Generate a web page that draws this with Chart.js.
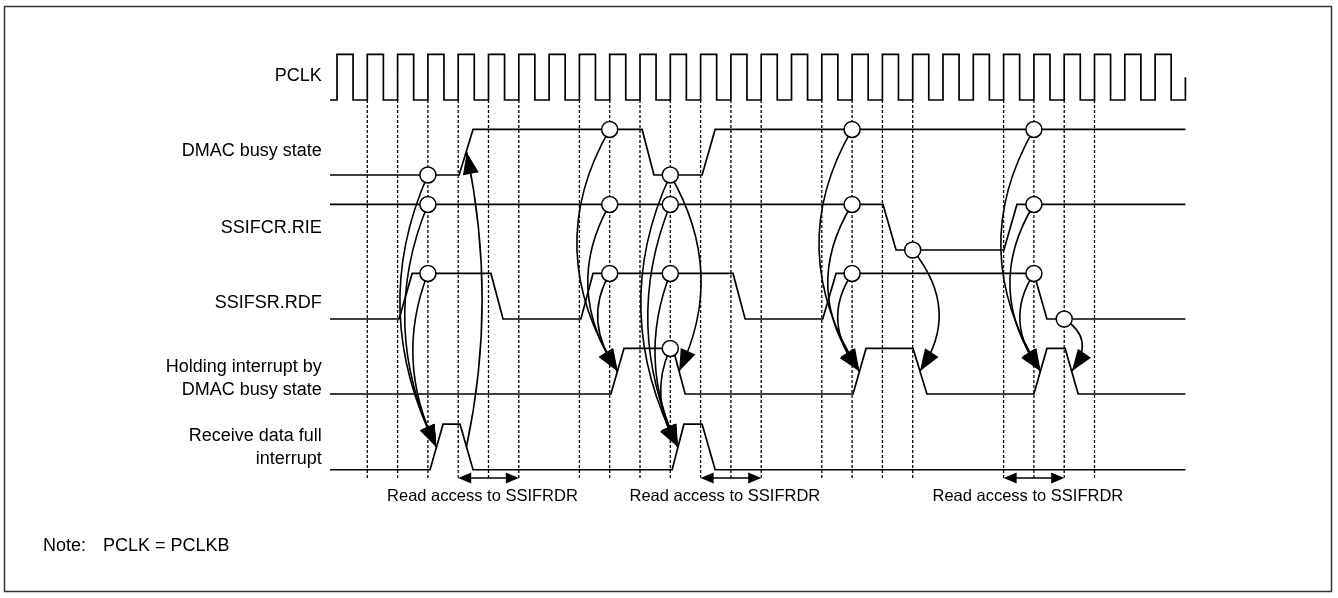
<!DOCTYPE html>
<html>
<head>
<meta charset="utf-8">
<title>SSI receive timing</title>
<script src="https://cdn.jsdelivr.net/npm/chart.js@4.4.1/dist/chart.umd.min.js"></script>
<style>
  body { margin: 0; background: #fff; }
  .box { width: 1338px; height: 598px; }
</style>
</head>
<body>
<div class="box"><canvas id="myChart"></canvas></div>
<script>
// time is in PCLK cycles (0 = first rising edge drawn), level 0 = low, 1 = high
const signalNames = ["PCLK", "DMAC busy state", "SSIFCR.RIE", "SSIFSR.RDF",
    ["Holding interrupt by", "DMAC busy state"], ["Receive data full", "interrupt"]];
const traceStart = -0.23;
const traceEnd = 28;

const pclkRise = [0, 1, 2, 3, 4, 5, 6, 7, 8, 9, 10, 11, 12, 13, 14, 15, 16, 17, 18, 19, 20, 21, 22, 23, 24, 25, 26, 27];
const pclkHighTime = 0.53;
const pclkLastLevel = 0.5;   // the picture is cut off half way up the last edge

const dmacBusy = [[-0.23, 0], [4.03, 0], [4.49, 1], [10.07, 1], [10.46, 0], [12.05, 0], [12.48, 1], [28, 1]];
const ssifcrRie = [[-0.23, 1], [18.02, 1], [18.45, 0], [22.01, 0], [22.44, 1], [28, 1]];
const ssifsrRdf = [[-0.23, 0], [2.05, 0], [2.48, 1], [5.08, 1], [5.48, 0], [8.05, 0], [8.45, 1], [13.07, 1], [13.47, 0],
    [16.03, 0], [16.47, 1], [23, 1], [23.43, 0], [28, 0]];
const holdingInt = [[-0.23, 0], [9.04, 0], [9.47, 1], [11.09, 1], [11.49, 0], [17.03, 0], [17.46, 1], [19.01, 1], [19.47, 0],
    [23, 0], [23.43, 1], [24.03, 1], [24.46, 0], [28, 0]];
const rxFullInt = [[-0.23, 0], [3.07, 0], [3.5, 1], [4.06, 1], [4.49, 0], [11.06, 0], [11.45, 1], [12.05, 1], [12.48, 0], [28, 0]];

// dotted PCLK reference edges
const dashTimes = [1, 2, 3, 4, 5, 6, 8, 9, 10, 11, 12, 13, 14, 16, 17, 18, 19, 22, 23, 24, 25];

// circled sampling points: [time, level]
const dmacMarks = [[3, 0], [9, 1], [11, 0], [17, 1], [23, 1]];
const rieMarks = [[3, 1], [9, 1], [11, 1], [17, 1], [19, 0], [23, 1]];
const rdfMarks = [[3, 1], [9, 1], [11, 1], [17, 1], [23, 1], [24, 0]];
const holdMarks = [[11, 1]];

// cause -> effect: [from signal, time, level, to signal, time, level, bend time, bend row]
const causeArrows = [
    [1, 3, 0, 5, 3.28, 0.5, 2.08, 2.81],
    [2, 3, 1, 5, 3.28, 0.5, 2.24, 3.01],
    [3, 3, 1, 5, 3.28, 0.5, 2.51, 3.47],
    [5, 4.27, 0.5, 1, 4.28, 0.5, 4.79, 2.67],
    [1, 9, 1, 4, 9.26, 0.5, 7.92, 2.0],
    [2, 9, 1, 4, 9.26, 0.5, 8.28, 2.51],
    [3, 9, 1, 4, 9.26, 0.5, 8.61, 2.96],
    [1, 11, 0, 5, 11.25, 0.5, 10.03, 2.81],
    [2, 11, 1, 5, 11.25, 0.5, 10.26, 3.01],
    [3, 11, 1, 5, 11.25, 0.5, 10.5, 3.47],
    [4, 11, 1, 5, 11.25, 0.5, 10.69, 3.97],
    [1, 11, 0, 4, 11.29, 0.5, 12.01, 2.31],
    [1, 17, 1, 4, 17.24, 0.5, 15.91, 2.0],
    [2, 17, 1, 4, 17.24, 0.5, 16.2, 2.51],
    [3, 17, 1, 4, 17.24, 0.5, 16.53, 2.96],
    [2, 19, 0, 4, 19.24, 0.5, 19.87, 2.81],
    [1, 23, 1, 4, 23.22, 0.5, 21.91, 2.0],
    [2, 23, 1, 4, 23.22, 0.5, 22.21, 2.51],
    [3, 23, 1, 4, 23.22, 0.5, 22.54, 2.96],
    [3, 24, 0, 4, 24.25, 0.5, 24.59, 3.23]
];

const readAccess = [[4, 6], [12, 14], [22, 24]];
const readLabel = "Read access to SSIFRDR";
const noteLabel = "Note:";
const noteText = "PCLK = PCLKB";

// ---- layout (rows are in lane pitch units, counted downwards) ----
const laneLow = [0, 1, 2, 2.92, 3.92, 4.93];
const laneAmp = 0.607;
const labelRow = [-0.32, 0.687, 1.713, 2.713, 3.713, 4.633];
const labelTime = -0.5;
const dashBottom = 5.04;
const readRow = 5.04;
const readTextRow = 5.29;
const textFont = '18px "Liberation Sans", Arial, sans-serif';
const smallFont = '16.5px "Liberation Sans", Arial, sans-serif';

function rowY(lane, level) {
    return laneLow[lane] - level * laneAmp;
}
function toPoints(arr, lane) {
    return arr.map(p => ({ x: p[0], y: rowY(lane, p[1]) }));
}

let pclk = [[traceStart, 0]];
pclkRise.forEach(r => {
    pclk.push([r, 0], [r, 1], [r + pclkHighTime, 1], [r + pclkHighTime, 0]);
});
pclk.push([traceEnd, 0], [traceEnd, pclkLastLevel]);

const waves = [pclk, dmacBusy, ssifcrRie, ssifsrRdf, holdingInt, rxFullInt];
let datasets = [];

let marks = [];
[[dmacMarks, 1], [rieMarks, 2], [rdfMarks, 3], [holdMarks, 4]].forEach(m => {
    marks = marks.concat(toPoints(m[0], m[1]));
});
datasets.push({
    data: marks,
    showLine: false,
    pointRadius: 8,
    pointHoverRadius: 8,
    pointBackgroundColor: "#fff",
    pointBorderColor: "#000",
    pointBorderWidth: 1.5,
    order: 0
});

waves.forEach((w, i) => {
    datasets.push({
        data: toPoints(w, i),
        showLine: true,
        borderColor: "#000",
        borderWidth: 1.7,
        pointRadius: 0,
        fill: false,
        order: 1
    });
});

dashTimes.forEach(t => {
    datasets.push({
        data: [{ x: t, y: laneLow[0] }, { x: t, y: dashBottom }],
        showLine: true,
        borderColor: "#000",
        borderWidth: 1.3,
        borderDash: [3, 2],
        pointRadius: 0,
        fill: false,
        order: 2
    });
});

function arrowHead(ctx, tx, ty, fx, fy, len, half) {
    const a = Math.atan2(ty - fy, tx - fx);
    const bx = tx - len * Math.cos(a), by = ty - len * Math.sin(a);
    ctx.beginPath();
    ctx.moveTo(tx, ty);
    ctx.lineTo(bx + half * Math.sin(a), by - half * Math.cos(a));
    ctx.lineTo(bx - half * Math.sin(a), by + half * Math.cos(a));
    ctx.closePath();
    ctx.fill();
}

const diagramPlugin = {
    id: "diagram",
    beforeDatasetsDraw(chart) {
        const ctx = chart.ctx, xs = chart.scales.x, ys = chart.scales.y;
        ctx.save();
        ctx.strokeStyle = "#000";
        ctx.fillStyle = "#000";
        ctx.lineWidth = 1.6;
        causeArrows.forEach(a => {
            const ax = xs.getPixelForValue(a[1]), ay = ys.getPixelForValue(rowY(a[0], a[2]));
            const bx = xs.getPixelForValue(a[4]), by = ys.getPixelForValue(rowY(a[3], a[5]));
            const mx = xs.getPixelForValue(a[6]), my = ys.getPixelForValue(a[7]);
            const cx = 2 * mx - (ax + bx) / 2, cy = 2 * my - (ay + by) / 2;
            ctx.beginPath();
            ctx.moveTo(ax, ay);
            ctx.quadraticCurveTo(cx, cy, bx, by);
            ctx.stroke();
            const t = 0.92;
            const px = (1 - t) * (1 - t) * ax + 2 * t * (1 - t) * cx + t * t * bx;
            const py = (1 - t) * (1 - t) * ay + 2 * t * (1 - t) * cy + t * t * by;
            arrowHead(ctx, bx, by, px, py, 22, 8);
        });
        ctx.restore();
    },
    afterDraw(chart) {
        const ctx = chart.ctx, xs = chart.scales.x, ys = chart.scales.y;
        ctx.save();
        ctx.fillStyle = "#000";
        ctx.strokeStyle = "#000";

        // signal names
        ctx.font = textFont;
        ctx.textAlign = "right";
        ctx.textBaseline = "middle";
        const lx = xs.getPixelForValue(labelTime);
        signalNames.forEach((name, i) => {
            const cy = ys.getPixelForValue(labelRow[i]);
            const lines = Array.isArray(name) ? name : [name];
            lines.forEach((s, j) => {
                ctx.fillText(s, lx, cy + (j - (lines.length - 1) / 2) * 22.5);
            });
        });

        // read access spans
        ctx.lineWidth = 1.6;
        ctx.font = smallFont;
        ctx.textAlign = "center";
        readAccess.forEach(r => {
            const x1 = xs.getPixelForValue(r[0]), x2 = xs.getPixelForValue(r[1]);
            const y = ys.getPixelForValue(readRow);
            ctx.beginPath();
            ctx.moveTo(x1 + 6, y);
            ctx.lineTo(x2 - 6, y);
            ctx.stroke();
            arrowHead(ctx, x1, y, x2, y, 13, 5.5);
            arrowHead(ctx, x2, y, x1, y, 13, 5.5);
            ctx.fillText(readLabel, xs.getPixelForValue((r[0] + r[1]) / 2 - 0.2), ys.getPixelForValue(readTextRow));
        });

        // note
        ctx.font = textFont;
        ctx.textAlign = "left";
        ctx.fillText(noteLabel, 43, 546);
        ctx.fillText(noteText, 103, 546);

        // frame
        ctx.strokeStyle = "#333";
        ctx.lineWidth = 1.5;
        ctx.strokeRect(4.5, 6.5, 1327, 585);
        ctx.restore();
    }
};

new Chart("myChart", {
    type: "scatter",
    data: { datasets: datasets },
    options: {
        responsive: true,
        maintainAspectRatio: false,
        animation: false,
        devicePixelRatio: 1,
        layout: { padding: 0, autoPadding: false },
        plugins: {
            legend: { display: false },
            tooltip: { enabled: false },
            title: { display: false }
        },
        scales: {
            x: { type: "linear", display: false, min: -11.122, max: 33.036 },
            y: { type: "linear", display: false, reverse: true, min: -1.3333, max: 6.64 }
        }
    },
    plugins: [diagramPlugin]
});
</script>
</body>
</html>
